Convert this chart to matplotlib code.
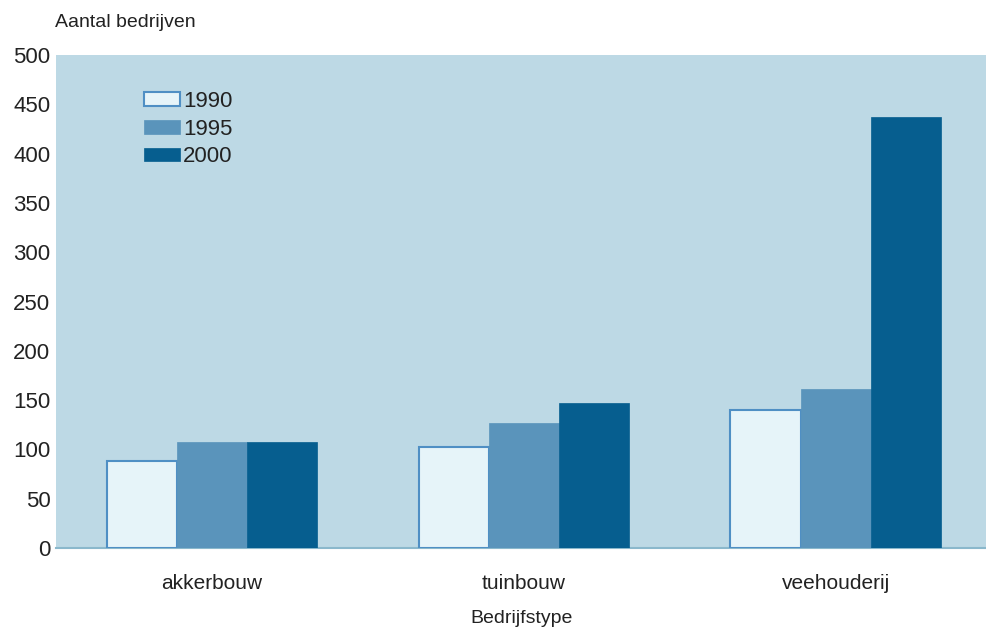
import matplotlib
matplotlib.use("Agg")
import matplotlib.pyplot as plt
import numpy as np

plt.rcParams['font.family'] = ['Liberation Sans', 'DejaVu Sans']

categories = ["akkerbouw", "tuinbouw", "veehouderij"]
years = ["1990", "1995", "2000"]
values_1990 = [88, 102, 140]
values_1995 = [108, 127, 161]
values_2000 = [108, 147, 437]
yticks = [0, 50, 100, 150, 200, 250, 300, 350, 400, 450, 500]

fig = plt.figure(figsize=(9.87, 6.34), dpi=100)
ax = fig.add_axes([0.0567, 0.1356, 0.9433, 0.7776])
ax.set_facecolor('#bdd9e5')

x = np.arange(len(categories))
w = 0.225
styles = [
    dict(color='#e6f4f9', edgecolor='#4f8fc4', linewidth=1.5),
    dict(color='#5a94bb', edgecolor='#5a94bb', linewidth=0.5),
    dict(color='#065e8f', edgecolor='#065e8f', linewidth=0.5),
]
series = [values_1990, values_1995, values_2000]
for i, (vals, yr, st) in enumerate(zip(series, years, styles)):
    ax.bar(x + (i - 1) * w, vals, width=w, label=yr, zorder=3, **st)

ax.set_xlim(-0.5, 2.485)
ax.set_ylim(0, 500)
ax.set_yticks(yticks)
ax.set_yticklabels([str(t) for t in yticks], fontsize=16, color='#222222')
ax.set_xticks(x)
ax.set_xticklabels(categories, fontsize=15, color='#222222')
ax.tick_params(axis='both', length=0)
ax.tick_params(axis='y', pad=4)
ax.tick_params(axis='x', pad=19)

for side in ['top', 'right', 'left']:
    ax.spines[side].set_visible(False)
ax.spines['bottom'].set_color('#8ab8cc')
ax.spines['bottom'].set_linewidth(1.5)

ax.set_xlabel("Bedrijfstype", fontsize=14, color='#222222', labelpad=12)
fig.text(0.056, 0.965, "Aantal bedrijven", fontsize=14, color='#222222',
         ha='left', va='center')

leg = ax.legend(loc='upper left', bbox_to_anchor=(0.085, 0.945), frameon=False,
                fontsize=16, handlelength=1.6, handleheight=0.55,
                handletextpad=0.15, labelspacing=0.3, borderaxespad=0)
for t in leg.get_texts():
    t.set_color('#222222')

fig.savefig("out.png", dpi=100)
